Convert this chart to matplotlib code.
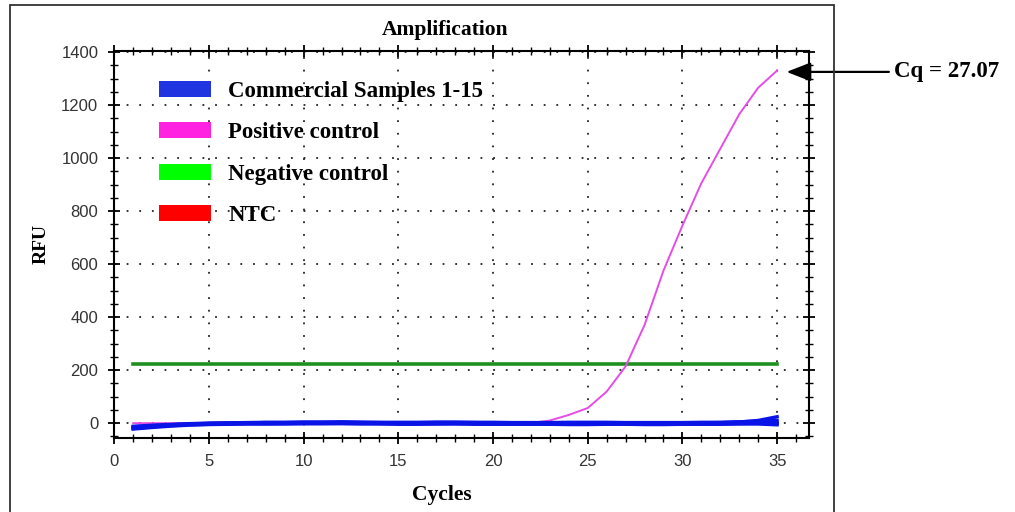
import numpy as np
import matplotlib
matplotlib.use("Agg")
from matplotlib import pyplot as plt
from matplotlib.patches import Patch, Rectangle
from matplotlib.ticker import MultipleLocator

cycles = list(range(1, 36))

# commercial samples (all hug the baseline)
sample_a = [-18, -12, -8, -4, -2, -1, 0, 0, 1, 1, 1, 2, 1, 1, 0, 0, 0, 1, 1, 1,
            0, 0, 0, -1, -1, 0, 0, 0, -1, -1, 0, 0, 1, 1, 2]
sample_b = [-14, -10, -6, -3, -1, 0, 1, 2, 2, 3, 3, 3, 2, 2, 1, 1, 2, 2, 2, 1,
            1, 1, 0, 0, 0, 1, 1, 0, 0, 0, 1, 2, 4, 10, 24]
sample_c = [-20, -14, -9, -6, -4, -3, -2, -2, -1, -1, -1, 0, 0, -1, -1, -2, -2, -1, -1, -2,
            -2, -2, -3, -3, -2, -2, -3, -3, -3, -2, -2, -2, -1, 0, 0]
sample_d = [-12, -8, -5, -2, 0, 1, 2, 3, 3, 4, 4, 5, 4, 3, 3, 3, 4, 4, 3, 3,
            2, 2, 2, 3, 3, 3, 2, 2, 2, 2, 3, 3, 5, 7, 10]
sample_e = [-22, -16, -11, -7, -5, -4, -3, -3, -3, -2, -2, -2, -3, -3, -4, -4, -3, -3, -4, -4,
            -4, -4, -4, -5, -5, -4, -4, -5, -5, -4, -4, -4, -3, -3, -6]
samples = [sample_a, sample_b, sample_c, sample_d, sample_e]

positive = [0, 0, 0, 0, 0, 0, 0, 0, 0, 0, 0, 0, 0, 0, 0, 0, 0, 0, 0, 0,
            0, 1, 10, 31, 57, 119, 214, 370, 575, 745, 905, 1035, 1165, 1265, 1330]
negative = [224] * 35
ntc = [-16, -11, -7, -3, -1, 0, 1, 1, 1, 0, 0, 1, 1, 2, 2, 2, 1, 1, 0, 0,
       0, 1, 1, 0, 0, 0, 1, 1, 0, 0, 0, 1, 1, 0, 0]

legend_labels = ["Commercial Samples 1-15", "Positive control", "Negative control", "NTC"]
legend_colors = ["#2034e0", "#ff22e0", "#00ff00", "#ff0000"]
cq_label = "Cq = 27.07"

serif = ["Liberation Serif", "DejaVu Serif"]

fig = plt.figure(figsize=(10.15, 5.12), dpi=100)
ax = fig.add_axes([0.1126, 0.144, 0.6847, 0.757])

# frame around the plot panel
fig.patches.append(Rectangle((0.0099, -0.02), 0.8118, 1.01, transform=fig.transFigure,
                             fill=False, edgecolor="#333333", linewidth=1.3))

ax.plot(cycles, ntc, color="#ff0000", linewidth=2.2)
ax.plot(cycles, negative, color="#1f8f1f", linewidth=2.6)
ax.plot(cycles, positive, color="#e64ce6", linewidth=1.4)
for s in samples:
    ax.plot(cycles, s, color="#0a14e6", linewidth=2.5)

ax.set_xlim(0, 36.7)
ax.set_ylim(-57, 1405)
ax.xaxis.set_major_locator(MultipleLocator(5))
ax.xaxis.set_minor_locator(MultipleLocator(1))
ax.yaxis.set_major_locator(MultipleLocator(200))
ax.yaxis.set_minor_locator(MultipleLocator(50))
ax.tick_params(which="major", direction="inout", length=9, width=1.3,
               labelsize=12, labelcolor="#333333", top=True, right=True)
ax.tick_params(which="minor", direction="inout", length=6, width=1.0, top=True, right=True)
ax.tick_params(axis="x", which="major", pad=7)
ax.tick_params(axis="y", which="major", pad=7)
for lab in ax.get_xticklabels() + ax.get_yticklabels():
    lab.set_family(["Liberation Sans", "DejaVu Sans"])
for sp in ax.spines.values():
    sp.set_linewidth(1.5)
ax.grid(True, which="major", color="#222222", linestyle=(0, (1, 6)), linewidth=1.3)

fig.text(445 / 1015, 1 - 30 / 512, "Amplification", family=serif, fontweight="bold",
         fontsize=15.5, ha="center", va="center")
ax.set_xlabel("Cycles", family=serif, fontweight="bold", fontsize=15.5, labelpad=11, x=0.4715)
ax.set_ylabel("RFU", family=serif, fontweight="bold", fontsize=14, labelpad=8)

handles = [Patch(facecolor=c, edgecolor="none") for c in legend_colors]
ax.legend(handles, legend_labels, loc="upper left", bbox_to_anchor=(0.034, 0.975),
          frameon=False, prop={"family": serif, "weight": "bold", "size": 16.5},
          handlelength=2.3, handleheight=0.7, handletextpad=0.75, labelspacing=0.89)

ax.annotate(cq_label, xy=(35.5, 1325), xytext=(41.2, 1325), xycoords="data",
            textcoords="data", annotation_clip=False, va="center", ha="left",
            family=serif, fontweight="bold", fontsize=16.5,
            arrowprops=dict(arrowstyle="-|>,head_length=0.9,head_width=0.35",
                            color="black", lw=1.6, shrinkA=2, shrinkB=0))

fig.savefig("out.png", dpi=100)
